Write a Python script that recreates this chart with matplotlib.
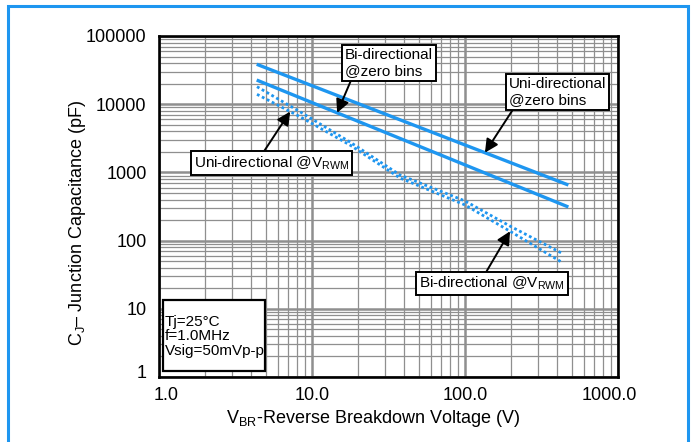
import numpy as np
import matplotlib.pyplot as plt
from matplotlib.patches import Rectangle
from matplotlib.transforms import ScaledTranslation

plt.rcParams['font.family'] = ['Liberation Sans', 'DejaVu Sans']
plt.rcParams['mathtext.fontset'] = 'custom'
plt.rcParams['mathtext.rm'] = 'Liberation Sans'
plt.rcParams['mathtext.it'] = 'Liberation Sans'

# solid lines (zero bias)
v_zero = [4.35, 474]
cap_uni_zero = [38500, 653]
cap_bi_zero = [22600, 311]

# dotted lines (at V_RWM)
v_rwm = [4.37, 8.34, 17.7, 37.6, 100, 196, 427]
cap_rwm_upper = [18060, 7760, 2790, 916, 381, 164, 65.8]
cap_rwm_lower = [13960, 6560, 2520, 828, 333, 138, 48.5]

x_ticks = [1, 10, 100, 1000]
x_tick_labels = ['1.0', '10.0', '100.0', '1000.0']
y_ticks = [1, 10, 100, 1000, 10000, 100000]
y_tick_labels = ['1', '10', '100', '1000', '10000', '100000']

conditions = 'Tj=25°C\nf=1.0MHz\nVsig=50mVp-p'

blue = '#1e96f0'


def on_curve(x, xs, ys):
    # point on a log-log curve at voltage x
    ly = np.interp(np.log10(x), np.log10(xs), np.log10(ys))
    return x, 10 ** ly


fig = plt.figure(figsize=(6.93, 4.42), dpi=100)
ax = fig.add_axes([159 / 693, 1 - 377 / 442, 459 / 693, 341 / 442])
ax.set_xscale('log')
ax.set_yscale('log')
ax.set_xlim(1, 1000)
ax.set_ylim(1, 100000)

ax.grid(True, which='major', color='#8f8f8f', lw=1.8)
ax.grid(True, which='minor', color='#8f8f8f', lw=0.9)
ax.set_axisbelow(True)

ax.plot(v_zero, cap_uni_zero, color=blue, lw=2.4, solid_capstyle='butt')
ax.plot(v_zero, cap_bi_zero, color=blue, lw=2.4, solid_capstyle='butt')
ax.plot(v_rwm, cap_rwm_upper, color=blue, lw=2.0, ls=(0, (1, 1)),
        dash_capstyle='butt')
ax.plot(v_rwm, cap_rwm_lower, color=blue, lw=2.0, ls=(0, (1, 1)),
        dash_capstyle='butt')

for s in ax.spines.values():
    s.set_linewidth(1.9)
    s.set_color('black')

ax.set_xticks(x_ticks)
ax.set_xticklabels(x_tick_labels)
ax.set_yticks(y_ticks)
ax.set_yticklabels(y_tick_labels)
ax.tick_params(which='both', length=0, labelsize=13)
ax.tick_params(axis='x', pad=7)
ax.tick_params(axis='y', pad=9)

# nudge end labels like the original
xl = ax.get_xticklabels()
xl[0].set_transform(xl[0].get_transform() + ScaledTranslation(7 / 100, 0, fig.dpi_scale_trans))
xl[-1].set_transform(xl[-1].get_transform() + ScaledTranslation(-9 / 100, 0, fig.dpi_scale_trans))
yl = ax.get_yticklabels()
yl[0].set_transform(yl[0].get_transform() + ScaledTranslation(0, 5 / 100, fig.dpi_scale_trans))

ax.set_xlabel('V$_{\\mathrm{BR}}$-Reverse Breakdown Voltage (V)', fontsize=13, labelpad=3)
ax.xaxis.set_label_coords(0.467, -0.09)
ax.set_ylabel('C$_{\\mathrm{J}}$\u2013 Junction Capacitance (pF)', fontsize=13)
ax.yaxis.set_label_coords(-0.155, 0.453)

box = dict(boxstyle='square,pad=0.2', fc='white', ec='black', lw=1.4)


def callout(text, target, xy_text, relpos):
    ax.annotate(text, xy=target, xycoords='data', xytext=xy_text,
                textcoords='axes fraction', ha='center', va='center',
                multialignment='left', fontsize=11, bbox=box,
                arrowprops=dict(arrowstyle='-|>', color='black', lw=1.4,
                                mutation_scale=20, shrinkA=0, shrinkB=0,
                                relpos=relpos))


callout('Bi-directional\n@zero bins', on_curve(14.6, v_zero, cap_bi_zero),
        (0.501, 0.921), (0.08, 0))
callout('Uni-directional\n@zero bins', on_curve(135, v_zero, cap_uni_zero),
        (0.868, 0.836), (0.06, 0))
callout('Uni-directional @V$_{\\mathrm{RWM}}$', on_curve(7.2, v_rwm, cap_rwm_lower),
        (0.245, 0.628), (0.44, 1))
callout('Bi-directional @V$_{\\mathrm{RWM}}$', on_curve(197, v_rwm, cap_rwm_lower),
        (0.725, 0.274), (0.45, 1))

# conditions box
ax.add_patch(Rectangle((0.0087, 0.0176), 0.2223, 0.2082, transform=ax.transAxes,
                       fc='white', ec='black', lw=1.6, zorder=5))
ax.text(0.0131, 0.12, conditions, transform=ax.transAxes, ha='left', va='center',
        fontsize=11, linespacing=1.05, zorder=6)

# blue frame around the figure
fig.patches.append(Rectangle((8 / 693, -0.05), 680 / 693, 1.05 - 6 / 442,
                             transform=fig.transFigure, fill=False,
                             ec=blue, lw=2.2))

fig.savefig('out.png', dpi=100)
